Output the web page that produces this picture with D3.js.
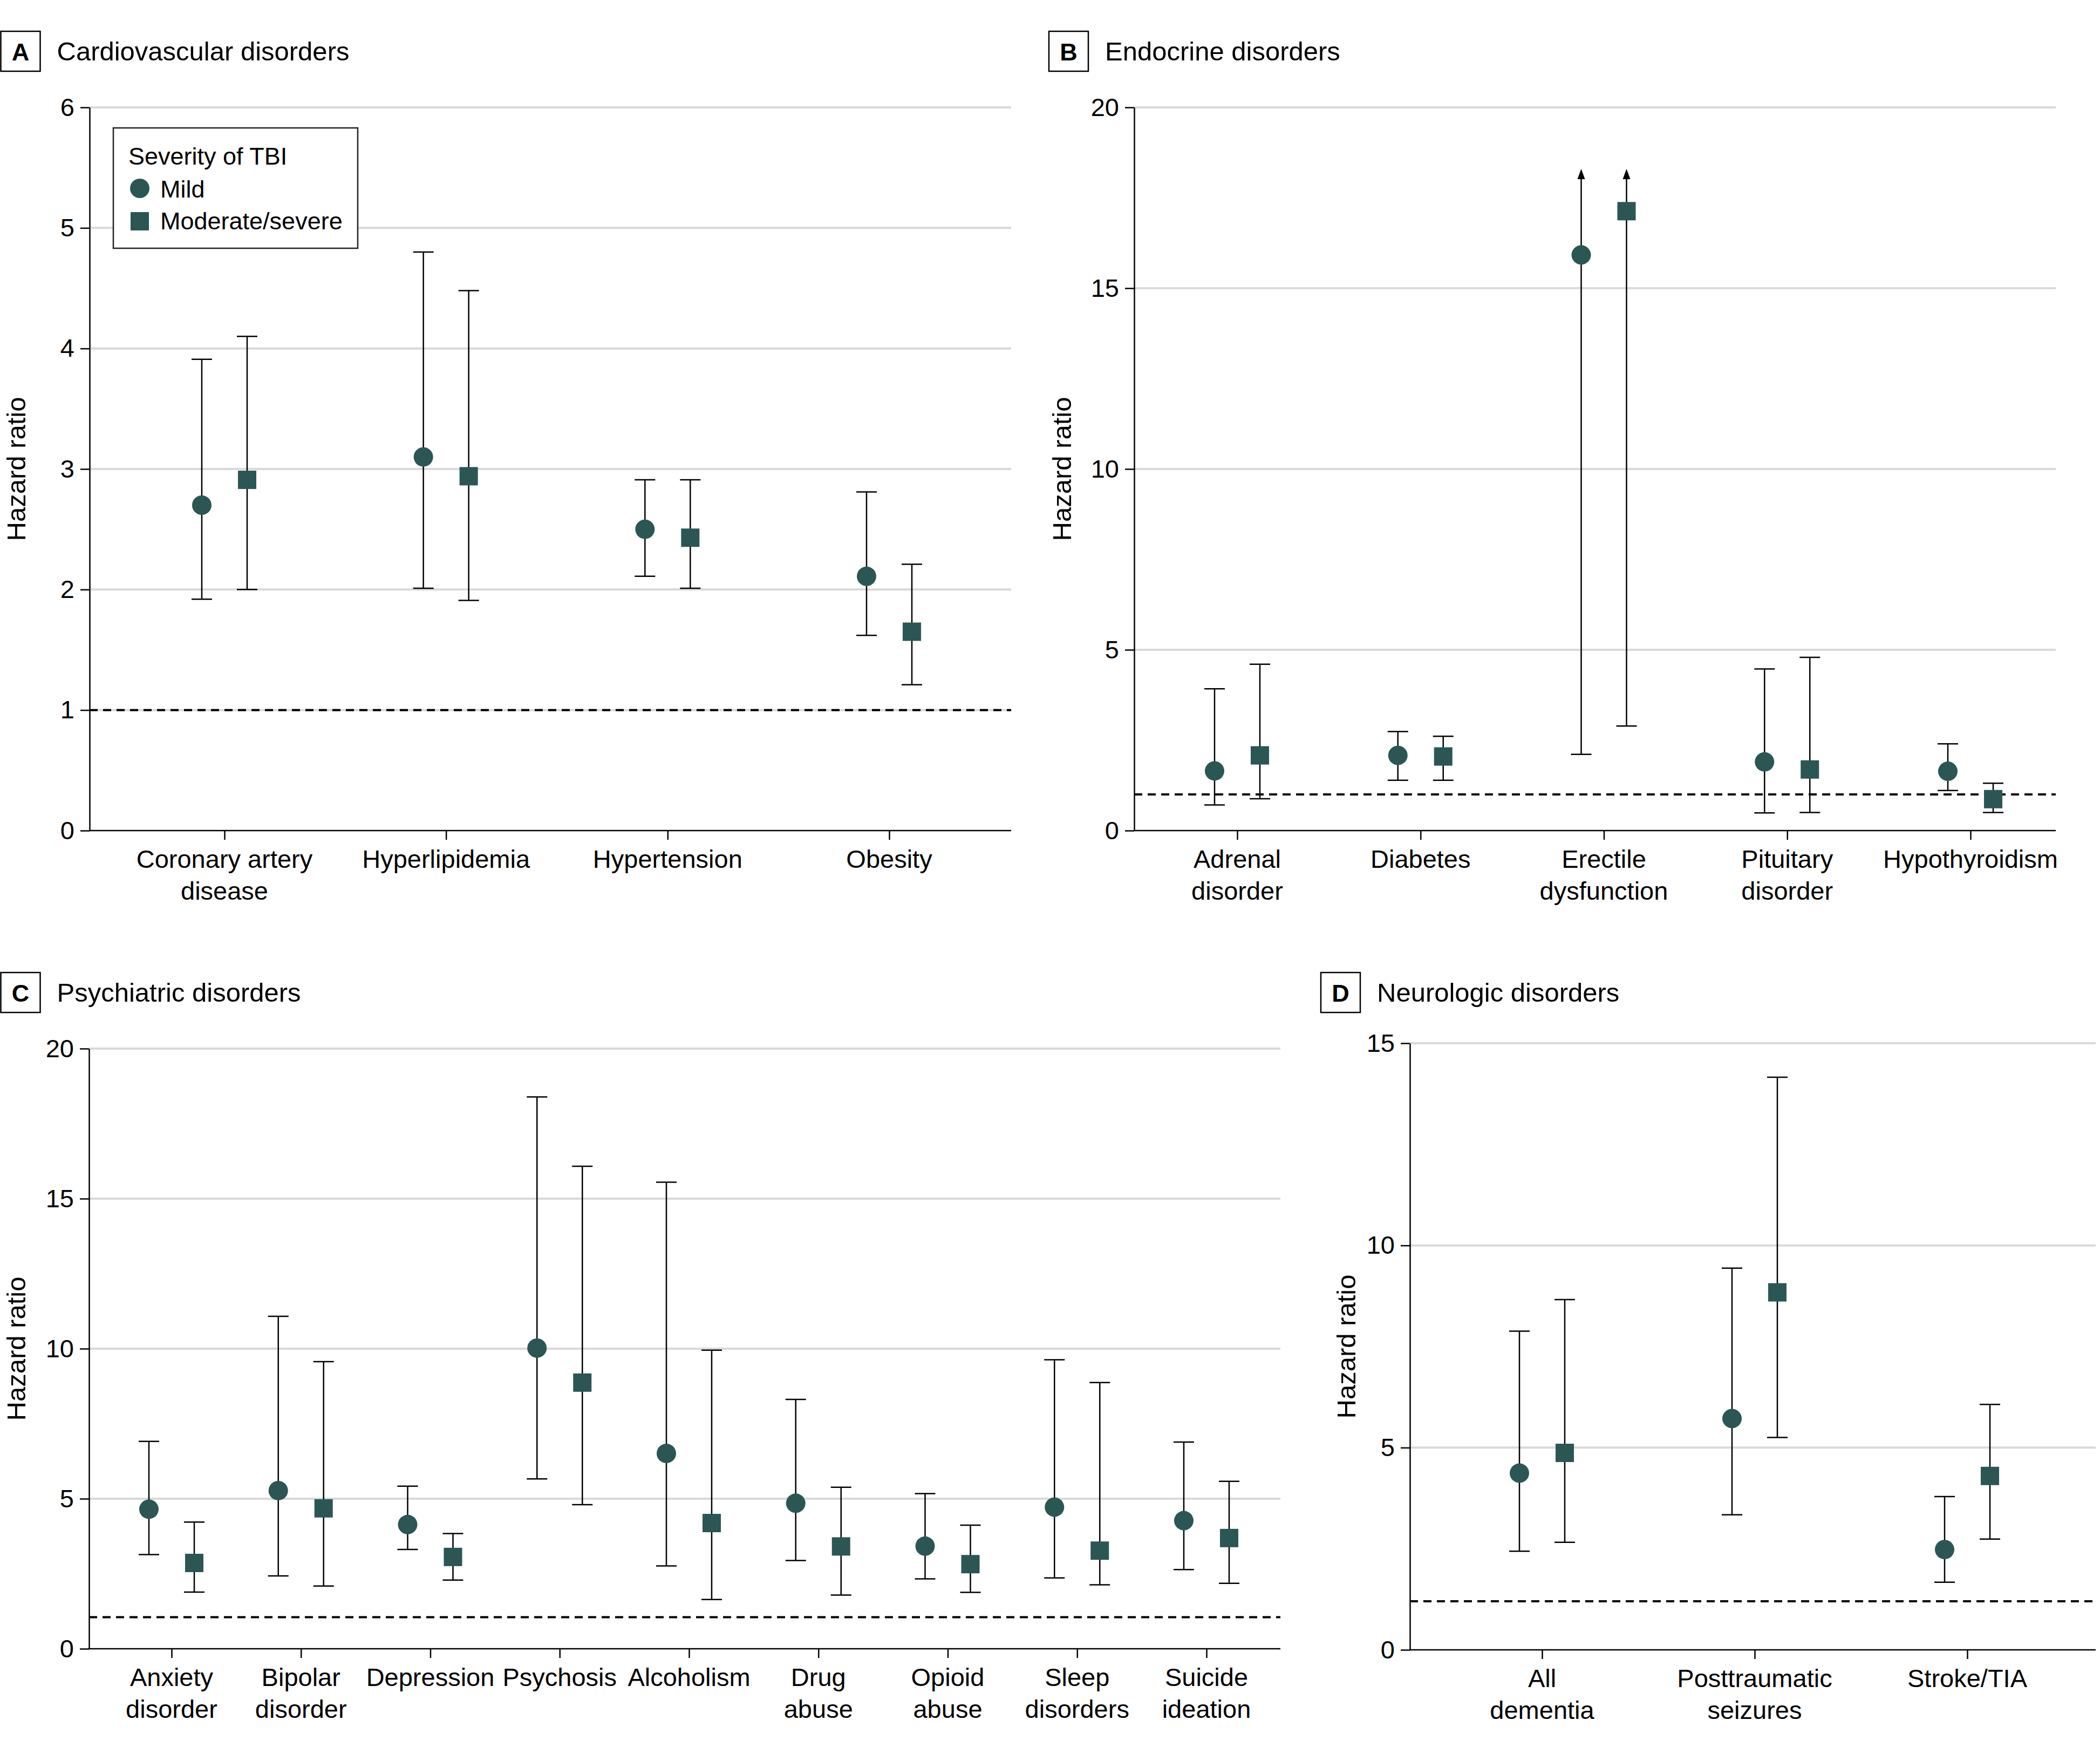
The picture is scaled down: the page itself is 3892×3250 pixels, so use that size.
<!DOCTYPE html>
<html><head><meta charset="utf-8">
<script src="https://cdn.jsdelivr.net/npm/d3@7"></script>
<style>html,body{margin:0;padding:0;background:#fff;} svg{display:block;}</style>
</head><body>
<script>
// ---------- DATA ----------
const seriesNames = ["Mild", "Moderate/severe"];
const legendTitle = "Severity of TBI";
const yAxisLabel = "Hazard ratio";

// Panel A – Cardiovascular
const panelATitle = "Cardiovascular disorders";
const panelACategories = ["Coronary artery|disease", "Hyperlipidemia", "Hypertension", "Obesity"];
const panelATicks = [0, 1, 2, 3, 4, 5, 6];
const panelAMildHR = [2.70, 3.10, 2.50, 2.11];
const panelAMildLo = [1.92, 2.01, 2.11, 1.62];
const panelAMildHi = [3.91, 4.80, 2.91, 2.81];
const panelAModHR  = [2.91, 2.94, 2.43, 1.65];
const panelAModLo  = [2.00, 1.91, 2.01, 1.21];
const panelAModHi  = [4.10, 4.48, 2.91, 2.21];
const panelARef = 1;

// Panel B – Endocrine (null upper = off scale, drawn as arrow)
const panelBTitle = "Endocrine disorders";
const panelBCategories = ["Adrenal|disorder", "Diabetes", "Erectile|dysfunction", "Pituitary|disorder", "Hypothyroidism"];
const panelBTicks = [0, 5, 10, 15, 20];
const panelBMildHR = [1.65, 2.08, 15.92, 1.90, 1.64];
const panelBMildLo = [0.71, 1.39, 2.11, 0.49, 1.11];
const panelBMildHi = [3.92, 2.74, null, 4.47, 2.40];
const panelBModHR  = [2.08, 2.05, 17.13, 1.69, 0.87];
const panelBModLo  = [0.88, 1.39, 2.89, 0.50, 0.50];
const panelBModHi  = [4.60, 2.61, null, 4.79, 1.31];
const panelBRef = 1;
const panelBArrowTop = 18.3;

// Panel C – Psychiatric
const panelCTitle = "Psychiatric disorders";
const panelCCategories = ["Anxiety|disorder", "Bipolar|disorder", "Depression", "Psychosis", "Alcoholism", "Drug|abuse", "Opioid|abuse", "Sleep|disorders", "Suicide|ideation"];
const panelCTicks = [0, 5, 10, 15, 20];
const panelCMildHR = [4.65, 5.27, 4.14, 10.02, 6.51, 4.85, 3.42, 4.72, 4.27];
const panelCMildLo = [3.14, 2.43, 3.31, 5.66, 2.76, 2.94, 2.33, 2.36, 2.64];
const panelCMildHi = [6.91, 11.08, 5.42, 18.39, 15.55, 8.31, 5.17, 9.63, 6.89];
const panelCModHR  = [2.86, 4.68, 3.06, 8.87, 4.19, 3.41, 2.82, 3.27, 3.69];
const panelCModLo  = [1.89, 2.09, 2.29, 4.80, 1.64, 1.79, 1.88, 2.13, 2.18];
const panelCModHi  = [4.22, 9.57, 3.84, 16.08, 9.95, 5.38, 4.12, 8.87, 5.58];
const panelCRef = 1.05;

// Panel D – Neurologic
const panelDTitle = "Neurologic disorders";
const panelDCategories = ["All|dementia", "Posttraumatic|seizures", "Stroke/TIA"];
const panelDTicks = [0, 5, 10, 15];
const panelDMildHR = [4.37, 5.72, 2.48];
const panelDMildLo = [2.44, 3.34, 1.67];
const panelDMildHi = [7.88, 9.44, 3.79];
const panelDModHR  = [4.87, 8.84, 4.30];
const panelDModLo  = [2.66, 5.25, 2.74];
const panelDModHi  = [8.66, 14.16, 6.07];
const panelDRef = 1.2;

// ---------- STYLE / LAYOUT ----------
const FONT = "'Liberation Sans', Arial, sans-serif";
const MARK = "#2b5654";
const W = 3892, H = 3250;

const svg = d3.select("body").append("svg").attr("width", W).attr("height", H)
  .attr("font-family", FONT);

function mkSeries(hr, lo, hi) { return hr.map((v, i) => ({ hr: v, lo: lo[i], hi: hi[i], i })); }

const panels = [
  { letter: "A", title: panelATitle, cats: panelACategories, ticks: panelATicks,
    mild: mkSeries(panelAMildHR, panelAMildLo, panelAMildHi), mod: mkSeries(panelAModHR, panelAModLo, panelAModHi),
    ref: panelARef, x0: 166, x1: 1874, yTop: 199, yBot: 1539, catFirst: 416, catLast: 1648,
    boxX: 1.5, boxY: 58, labelX: 30, legend: true },
  { letter: "B", title: panelBTitle, cats: panelBCategories, ticks: panelBTicks,
    mild: mkSeries(panelBMildHR, panelBMildLo, panelBMildHi), mod: mkSeries(panelBModHR, panelBModLo, panelBModHi),
    ref: panelBRef, arrowTop: panelBArrowTop, x0: 2102, x1: 3810, yTop: 199, yBot: 1539, catFirst: 2293, catLast: 3652,
    boxX: 1944, boxY: 58, labelX: 1968 },
  { letter: "C", title: panelCTitle, cats: panelCCategories, ticks: panelCTicks,
    mild: mkSeries(panelCMildHR, panelCMildLo, panelCMildHi), mod: mkSeries(panelCModHR, panelCModLo, panelCModHi),
    ref: panelCRef, x0: 165, x1: 2373, yTop: 1943, yBot: 3055, catFirst: 318, catLast: 2236,
    boxX: 1.5, boxY: 1802, labelX: 30 },
  { letter: "D", title: panelDTitle, cats: panelDCategories, ticks: panelDTicks,
    mild: mkSeries(panelDMildHR, panelDMildLo, panelDMildHi), mod: mkSeries(panelDModHR, panelDModLo, panelDModHi),
    ref: panelDRef, x0: 2613, x1: 3884, yTop: 1933, yBot: 3057, catFirst: 2858, catLast: 3646,
    boxX: 2448, boxY: 1802, labelX: 2495 }
];

const OFFSET = 42, CAP = 19, R = 18, SQ = 34;

panels.forEach(p => {
  const g = svg.append("g");
  const yMax = d3.max(p.ticks);
  const y = d3.scaleLinear().domain([0, yMax]).range([p.yBot, p.yTop]);
  const x = d3.scalePoint().domain(p.cats).range([p.catFirst, p.catLast]);

  // panel letter box + title
  g.append("rect").attr("x", p.boxX).attr("y", p.boxY).attr("width", 73).attr("height", 74)
    .attr("fill", "none").attr("stroke", "#000").attr("stroke-width", 2.5);
  g.append("text").attr("x", p.boxX + 36.5).attr("y", p.boxY + 54).attr("text-anchor", "middle")
    .attr("font-weight", "bold").attr("font-size", 45).text(p.letter);
  g.append("text").attr("x", p.boxX + 104).attr("y", p.boxY + 54)
    .attr("font-size", 49).text(p.title);

  // gridlines
  g.append("g").selectAll("line").data(p.ticks.filter(t => t > 0)).join("line")
    .attr("x1", p.x0).attr("x2", p.x1).attr("y1", d => y(d)).attr("y2", d => y(d))
    .attr("stroke", "#d9d9d9").attr("stroke-width", 4);

  // reference dashed line
  g.append("line").attr("x1", p.x0).attr("x2", p.x1).attr("y1", y(p.ref)).attr("y2", y(p.ref))
    .attr("stroke", "#000").attr("stroke-width", 4).attr("stroke-dasharray", "15,10");

  // error bars + markers
  const series = [{ data: p.mild, off: -OFFSET, shape: "circle" }, { data: p.mod, off: OFFSET, shape: "square" }];
  series.forEach(s => {
    const sg = g.append("g");
    s.data.forEach(d => {
      const cx = x(p.cats[d.i]) + s.off;
      const top = d.hi == null ? y(p.arrowTop) + 19 : y(d.hi);
      sg.append("line").attr("x1", cx).attr("x2", cx).attr("y1", y(d.lo)).attr("y2", top)
        .attr("stroke", "#000").attr("stroke-width", 2.5);
      sg.append("line").attr("x1", cx - CAP).attr("x2", cx + CAP).attr("y1", y(d.lo)).attr("y2", y(d.lo))
        .attr("stroke", "#000").attr("stroke-width", 2.5);
      if (d.hi == null) {
        const ty = y(p.arrowTop);
        sg.append("path").attr("d", `M${cx},${ty} L${cx - 7},${ty + 19} L${cx + 7},${ty + 19} Z`).attr("fill", "#000");
      } else {
        sg.append("line").attr("x1", cx - CAP).attr("x2", cx + CAP).attr("y1", y(d.hi)).attr("y2", y(d.hi))
          .attr("stroke", "#000").attr("stroke-width", 2.5);
      }
      if (s.shape === "circle") {
        sg.append("circle").attr("cx", cx).attr("cy", y(d.hr)).attr("r", R).attr("fill", MARK);
      } else {
        sg.append("rect").attr("x", cx - SQ / 2).attr("y", y(d.hr) - SQ / 2).attr("width", SQ).attr("height", SQ).attr("fill", MARK);
      }
    });
  });

  // y axis
  const yAx = g.append("g").attr("transform", `translate(${p.x0},0)`)
    .call(d3.axisLeft(y).tickValues(p.ticks).tickSize(17).tickSizeOuter(0).tickPadding(11).tickFormat(d3.format("d")));
  yAx.select(".domain").attr("stroke-width", 2.5);
  yAx.selectAll(".tick line").attr("stroke-width", 2.5);
  yAx.selectAll(".tick text").attr("font-size", 47).attr("font-family", FONT).attr("fill", "#000");

  // x axis
  const xAx = g.append("g").attr("transform", `translate(0,${p.yBot})`)
    .call(d3.axisBottom(x).tickSize(17).tickSizeOuter(0).tickFormat(""));
  xAx.select(".domain").remove();
  xAx.selectAll(".tick line").attr("stroke-width", 2.5);
  g.append("line").attr("x1", p.x0 - 1).attr("x2", p.x1).attr("y1", y(0)).attr("y2", y(0))
    .attr("stroke", "#000").attr("stroke-width", 2.5);

  // category labels
  p.cats.forEach(c => {
    const t = g.append("text").attr("text-anchor", "middle").attr("font-size", 47)
      .attr("x", x(c)).attr("y", p.yBot + 69);
    c.split("|").forEach((line, k) => {
      t.append("tspan").attr("x", x(c)).attr("dy", k === 0 ? 0 : 59).text(line);
    });
  });

  // y axis label
  g.append("text").attr("transform", `translate(${p.labelX},${(p.yTop + p.yBot) / 2}) rotate(-90)`)
    .attr("text-anchor", "middle").attr("dy", "0.35em").attr("font-size", 49).text(yAxisLabel);

  // legend
  if (p.legend) {
    const lg = g.append("g");
    lg.append("rect").attr("x", 210).attr("y", 237).attr("width", 453).attr("height", 223)
      .attr("fill", "#fff").attr("stroke", "#222").attr("stroke-width", 2.5);
    lg.append("text").attr("x", 238).attr("y", 305).attr("font-size", 45).text(legendTitle);
    lg.append("circle").attr("cx", 259).attr("cy", 349).attr("r", R).attr("fill", MARK);
    lg.append("text").attr("x", 297).attr("y", 366).attr("font-size", 45).text(seriesNames[0]);
    lg.append("rect").attr("x", 242).attr("y", 393).attr("width", SQ).attr("height", SQ).attr("fill", MARK);
    lg.append("text").attr("x", 297).attr("y", 425).attr("font-size", 45).text(seriesNames[1]);
  }
});
</script>
</body></html>
